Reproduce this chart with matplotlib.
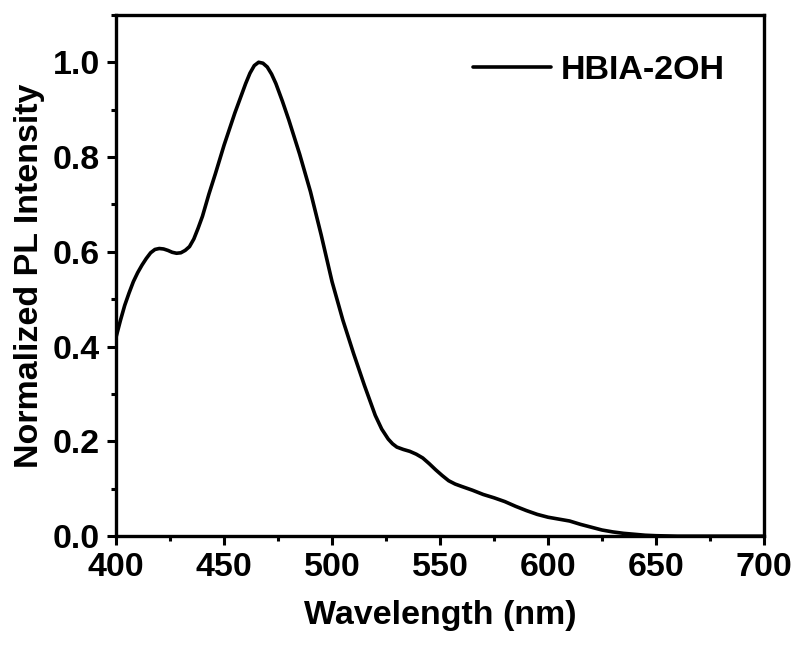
import matplotlib
matplotlib.use("Agg")
import matplotlib.pyplot as plt
from matplotlib.ticker import MultipleLocator

# PL spectrum (denser where the curve bends)
wavelength = [400, 402, 404, 406, 408, 410, 412, 414, 416, 418, 420, 422, 424, 426,
              428, 430, 432, 434, 436, 438, 440, 443, 446, 450, 455, 460, 462, 464,
              466, 468, 470, 472, 474, 477, 480, 485, 490, 495, 500, 505, 510, 515,
              520, 523, 526, 528, 530, 533, 536, 539, 542, 545, 548, 551, 554, 557,
              560, 565, 570, 575, 580, 585, 590, 595, 600, 605, 610, 615, 620, 625,
              630, 635, 640, 645, 650, 660, 680, 700]
intensity = [0.42, 0.455, 0.487, 0.513, 0.537, 0.556, 0.572, 0.586, 0.598, 0.605,
             0.607, 0.606, 0.603, 0.599, 0.597, 0.598, 0.603, 0.611, 0.627, 0.650,
             0.675, 0.722, 0.765, 0.825, 0.893, 0.955, 0.977, 0.993, 1.0, 0.998,
             0.990, 0.975, 0.955, 0.918, 0.878, 0.806, 0.727, 0.635, 0.537, 0.456,
             0.385, 0.318, 0.255, 0.226, 0.205, 0.195, 0.188, 0.183, 0.179, 0.173,
             0.165, 0.153, 0.140, 0.128, 0.117, 0.110, 0.105, 0.097, 0.088, 0.081,
             0.073, 0.063, 0.054, 0.046, 0.040, 0.036, 0.032, 0.025, 0.019, 0.013,
             0.009, 0.006, 0.004, 0.002, 0.001, 0.0, 0.0, 0.0]
series_name = "HBIA-2OH"

plt.rcParams['font.family'] = ['Liberation Sans', 'DejaVu Sans']
plt.rcParams['font.weight'] = 'bold'

fig = plt.figure(figsize=(7.95, 6.46), dpi=100)
ax = fig.add_axes([0.146, 0.170, 0.815, 0.807])

ax.plot(wavelength, intensity, color='black', lw=2.6, label=series_name,
        solid_joinstyle='round', solid_capstyle='round')

ax.set_xlim(400, 700)
ax.set_ylim(0, 1.1)
ax.xaxis.set_major_locator(MultipleLocator(50))
ax.xaxis.set_minor_locator(MultipleLocator(25))
ax.yaxis.set_major_locator(MultipleLocator(0.2))
ax.yaxis.set_minor_locator(MultipleLocator(0.1))
ax.yaxis.set_major_formatter(plt.FormatStrFormatter('%.1f'))

for s in ax.spines.values():
    s.set_linewidth(2.4)
ax.tick_params(which='major', direction='out', length=6.5, width=2.2, labelsize=24.5, pad=5)
ax.tick_params(which='minor', direction='out', length=3.5, width=2.2)
for lab in ax.get_xticklabels() + ax.get_yticklabels():
    lab.set_fontweight('bold')

ax.set_xlabel('Wavelength (nm)', fontsize=24.5, fontweight='bold', labelpad=12)
ax.set_ylabel('Normalized PL Intensity', fontsize=24.5, fontweight='bold', labelpad=6)

ax.legend(loc='center right', bbox_to_anchor=(0.94, 0.893), frameon=False,
          borderaxespad=0, borderpad=0, handlelength=2.3, handletextpad=0.3,
          prop={'size': 24.5, 'weight': 'bold'})

fig.savefig('out.png', dpi=100)
